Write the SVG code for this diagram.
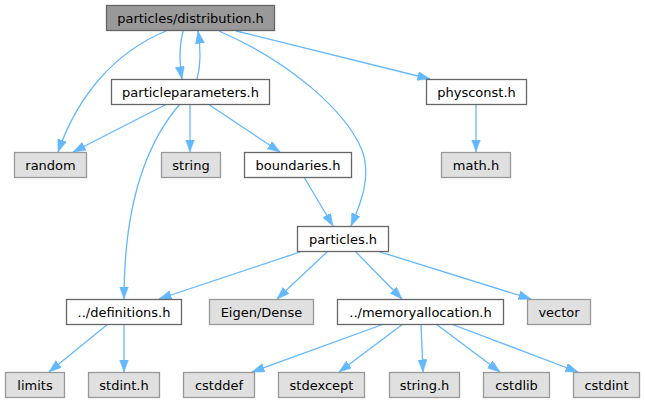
<svg xmlns="http://www.w3.org/2000/svg" width="645" height="403" viewBox="0 0 645 403">
<style>
rect{stroke-width:1.3}
.main rect{fill:#999999;stroke:#666666}
.loc rect{fill:#ffffff;stroke:#666666}
.ext rect{fill:#e0e0e0;stroke:#999999}
text{font-family:"DejaVu Sans","Liberation Sans",sans-serif;font-size:13px;fill:#000000;text-anchor:middle}
.edges path{fill:none;stroke:#63b8ff;stroke-width:1.3;marker-end:url(#ah)}
</style>
<defs>
<marker id="ah" markerUnits="userSpaceOnUse" markerWidth="14" markerHeight="10" refX="12.5" refY="4.5" orient="auto">
<path d="M0,0 L12.5,4.5 L0,9 z" fill="#63b8ff" stroke="#63b8ff" stroke-width="0.5"/>
</marker>
</defs>
<rect width="645" height="403" fill="#ffffff"/>
<g class="edges" id="edges">
<path d="M183,31 C179,47 179,62 182,79"/>
<path d="M197,79 C201,65 201,50 198,31"/>
<path d="M166,31 C115,52 78,95 58,152"/>
<path d="M219,31 C290,62 345,110 362,150 C372,178 360,205 351,226"/>
<path d="M236,31 L430,79"/>
<path d="M167,104 L73,152"/>
<path d="M190,104 L190,152"/>
<path d="M208,104 L280,152"/>
<path d="M180,104 C140,150 124,220 124,299"/>
<path d="M304,177 L333,226"/>
<path d="M476,104 L476,152"/>
<path d="M303,251 L159,299"/>
<path d="M328,251 L277,299"/>
<path d="M355,251 L402,299"/>
<path d="M377,251 L531,299"/>
<path d="M108,324 L49,372"/>
<path d="M124,324 L124,372"/>
<path d="M384,324 L252,372"/>
<path d="M403,324 L339,372"/>
<path d="M421,324 L423,372"/>
<path d="M436,324 L500,372"/>
<path d="M451,324 L578,372"/>
</g>
<g id="n_distribution" class="main"><rect x="106.5" y="5.5" width="168" height="25"/><text x="190.5" y="22.5">particles/distribution.h</text></g>
<g id="n_particleparameters" class="loc"><rect x="111.5" y="79.5" width="158" height="25"/><text x="190.5" y="96.5">particleparameters.h</text></g>
<g id="n_physconst" class="loc"><rect x="426.5" y="79.5" width="100" height="25"/><text x="476.5" y="96.5">physconst.h</text></g>
<g id="n_random" class="ext"><rect x="14.5" y="152.5" width="72" height="25"/><text x="50.5" y="169.5">random</text></g>
<g id="n_string" class="ext"><rect x="161.5" y="152.5" width="59" height="25"/><text x="191" y="169.5">string</text></g>
<g id="n_boundaries" class="loc"><rect x="244.5" y="152.5" width="107" height="25"/><text x="298" y="169.5">boundaries.h</text></g>
<g id="n_math" class="ext"><rect x="441.5" y="152.5" width="69" height="25"/><text x="476" y="169.5">math.h</text></g>
<g id="n_particles" class="loc"><rect x="297.5" y="226.5" width="91" height="25"/><text x="343" y="243.5">particles.h</text></g>
<g id="n_definitions" class="loc"><rect x="66.5" y="299.5" width="115" height="25"/><text x="124" y="316.5">../definitions.h</text></g>
<g id="n_eigen" class="ext"><rect x="209.5" y="299.5" width="104" height="25"/><text x="261.5" y="316.5">Eigen/Dense</text></g>
<g id="n_memoryallocation" class="loc"><rect x="337.5" y="299.5" width="166" height="25"/><text x="420.5" y="316.5">../memoryallocation.h</text></g>
<g id="n_vector" class="ext"><rect x="527.5" y="299.5" width="63" height="25"/><text x="559" y="316.5">vector</text></g>
<g id="n_limits" class="ext"><rect x="5.5" y="372.5" width="59" height="25"/><text x="35" y="389.5">limits</text></g>
<g id="n_stdint" class="ext"><rect x="88.5" y="372.5" width="71" height="25"/><text x="124" y="389.5">stdint.h</text></g>
<g id="n_cstddef" class="ext"><rect x="183.5" y="372.5" width="71" height="25"/><text x="219" y="389.5">cstddef</text></g>
<g id="n_stdexcept" class="ext"><rect x="278.5" y="372.5" width="86" height="25"/><text x="321.5" y="389.5">stdexcept</text></g>
<g id="n_stringh" class="ext"><rect x="389.5" y="372.5" width="70" height="25"/><text x="424.5" y="389.5">string.h</text></g>
<g id="n_cstdlib" class="ext"><rect x="483.5" y="372.5" width="66" height="25"/><text x="516.5" y="389.5">cstdlib</text></g>
<g id="n_cstdint" class="ext"><rect x="573.5" y="372.5" width="66" height="25"/><text x="606.5" y="389.5">cstdint</text></g>
</svg>
